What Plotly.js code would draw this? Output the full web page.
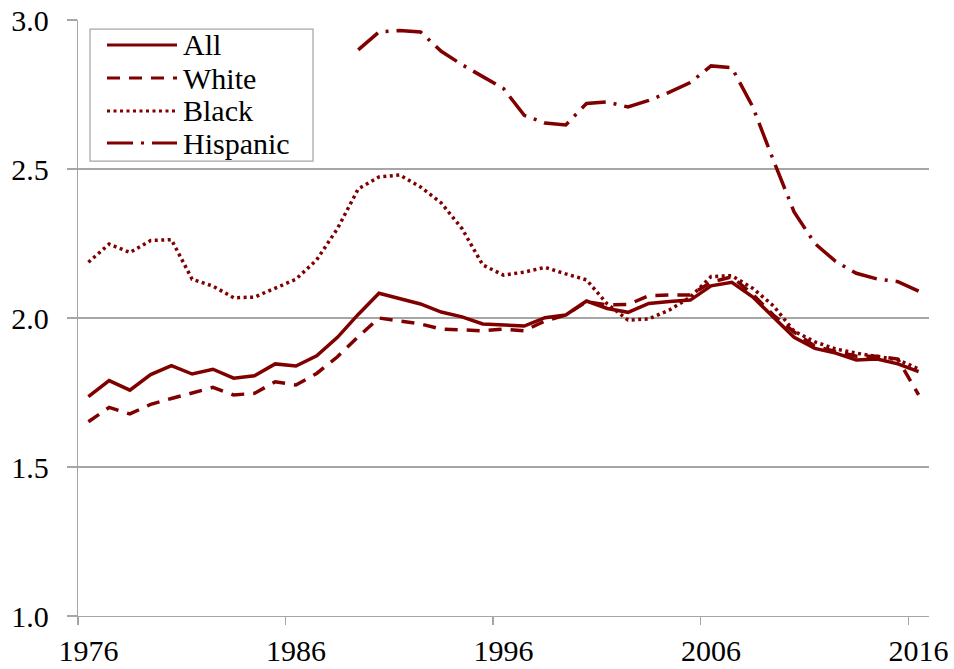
<!DOCTYPE html>
<html>
<head>
<meta charset="utf-8">
<script src="https://cdn.plot.ly/plotly-3.0.1.min.js"></script>
<style>
  html, body { margin: 0; padding: 0; background: #fff; }
  #chart { width: 954px; height: 669px; }
</style>
</head>
<body>
<div id="chart"></div>
<script>
// years 1976..2016
var years = [];
for (var yr = 1976; yr <= 2016; yr++) years.push(yr);

var allVals = [1.736, 1.79, 1.758, 1.81, 1.84, 1.812, 1.828, 1.798, 1.806, 1.846,
    1.839, 1.873, 1.935, 2.012, 2.083, 2.064, 2.047, 2.02, 2.004, 1.98,
    1.977, 1.973, 2.001, 2.01, 2.057, 2.032, 2.019, 2.049, 2.055, 2.06,
    2.108, 2.12, 2.071, 2.004, 1.935, 1.898, 1.882, 1.859, 1.862, 1.846,
    1.82];

var whiteVals = [1.652, 1.70, 1.678, 1.71, 1.73, 1.747, 1.767, 1.742, 1.747, 1.786,
    1.775, 1.814, 1.87, 1.937, 2.00, 1.99, 1.98, 1.963, 1.96, 1.957,
    1.963, 1.957, 1.99, 2.01, 2.055, 2.044, 2.045, 2.075, 2.077, 2.077,
    2.12, 2.138, 2.08, 2.01, 1.953, 1.905, 1.888, 1.872, 1.872, 1.862,
    1.742];

var blackVals = [2.187, 2.248, 2.22, 2.26, 2.263, 2.13, 2.107, 2.068, 2.07, 2.10,
    2.13, 2.195, 2.30, 2.433, 2.473, 2.48, 2.44, 2.386, 2.30, 2.178,
    2.144, 2.154, 2.17, 2.148, 2.128, 2.047, 1.993, 1.997, 2.027, 2.07,
    2.139, 2.142, 2.10, 2.041, 1.956, 1.92, 1.896, 1.882, 1.872, 1.86,
    1.829];

var hispVals = [null, null, null, null, null, null, null, null, null, null,
    null, null, null, 2.90, 2.96, 2.965, 2.96, 2.895, 2.85, 2.81,
    2.77, 2.68, 2.654, 2.648, 2.72, 2.725, 2.708, 2.73, 2.758, 2.79,
    2.846, 2.84, 2.71, 2.53, 2.356, 2.25, 2.19, 2.15, 2.131, 2.122,
    2.09];

var seriesNames = ["All", "White", "Black", "Hispanic"];
var seriesVals = [allVals, whiteVals, blackVals, hispVals];
var seriesDash = ["solid", "13px,9px", "3px,3.5px", "26px,8px,3px,8px"];

var xTickYears = [1976, 1986, 1996, 2006, 2016];

var red = "#800000";
var grey = "#a6a6a6";
var serif = { family: "Liberation Serif, Times New Roman, serif", size: 30, color: "black" };

var traces = [];
for (var i = 0; i < seriesNames.length; i++) {
    traces.push({
        x: years,
        y: seriesVals[i],
        name: seriesNames[i],
        type: "scatter",
        mode: "lines",
        connectgaps: false,
        line: { color: red, width: 3.5, dash: seriesDash[i] },
        showlegend: false
    });
}

// plot box in pixels, used to place the hand-drawn legend
var W = 954, H = 669;
var mL = 78, mR = 25, mT = 20, mB = 53;
function px(x) { return (x - mL) / (W - mL - mR); }
function py(y) { return (H - mB - y) / (H - mT - mB); }

var shapes = [{
    type: "rect", xref: "paper", yref: "paper",
    x0: px(90), x1: px(313), y0: py(161), y1: py(29),
    line: { color: grey, width: 1.25 },
    fillcolor: "white"
}];
var annotations = [];
var rowY = [45, 78, 111, 143];
for (var j = 0; j < seriesNames.length; j++) {
    shapes.push({
        type: "line", xref: "paper", yref: "paper",
        x0: px(107), x1: px(177), y0: py(rowY[j]), y1: py(rowY[j]),
        line: { color: red, width: 3, dash: seriesDash[j] }
    });
    annotations.push({
        xref: "paper", yref: "paper",
        x: px(181), y: py(rowY[j]),
        xanchor: "left", yanchor: "middle",
        text: seriesNames[j], showarrow: false,
        font: serif
    });
}

var boundaries = xTickYears.map(function (d) { return d - 0.5; });

var layout = {
    width: W,
    height: H,
    margin: { l: mL, r: mR, t: mT, b: mB },
    paper_bgcolor: "white",
    plot_bgcolor: "white",
    font: serif,
    xaxis: {
        range: [1975.5, 2016.5],
        tickmode: "array",
        tickvals: xTickYears,
        ticktext: xTickYears.map(String),
        tickfont: serif,
        ticks: "outside",
        ticklen: 8,
        tickcolor: "rgba(0,0,0,0)",
        showgrid: false,
        zeroline: false,
        showline: true,
        linecolor: grey,
        linewidth: 1.25,
        minor: {
            tickmode: "array",
            tickvals: boundaries,
            ticks: "outside",
            ticklen: 8,
            tickcolor: grey,
            tickwidth: 1.25,
            showgrid: false
        }
    },
    yaxis: {
        range: [1, 3],
        tickmode: "linear",
        tick0: 1,
        dtick: 0.5,
        tickformat: ".1f",
        tickfont: serif,
        ticks: "outside",
        ticklen: 10,
        ticklabelstandoff: 12,
        tickcolor: grey,
        tickwidth: 1.25,
        showgrid: true,
        gridcolor: grey,
        gridwidth: 1.25,
        zeroline: false,
        showline: true,
        linecolor: grey,
        linewidth: 1.25
    },
    shapes: shapes,
    annotations: annotations,
    showlegend: false
};

Plotly.newPlot("chart", traces, layout, { displayModeBar: false, staticPlot: true });
</script>
</body>
</html>
